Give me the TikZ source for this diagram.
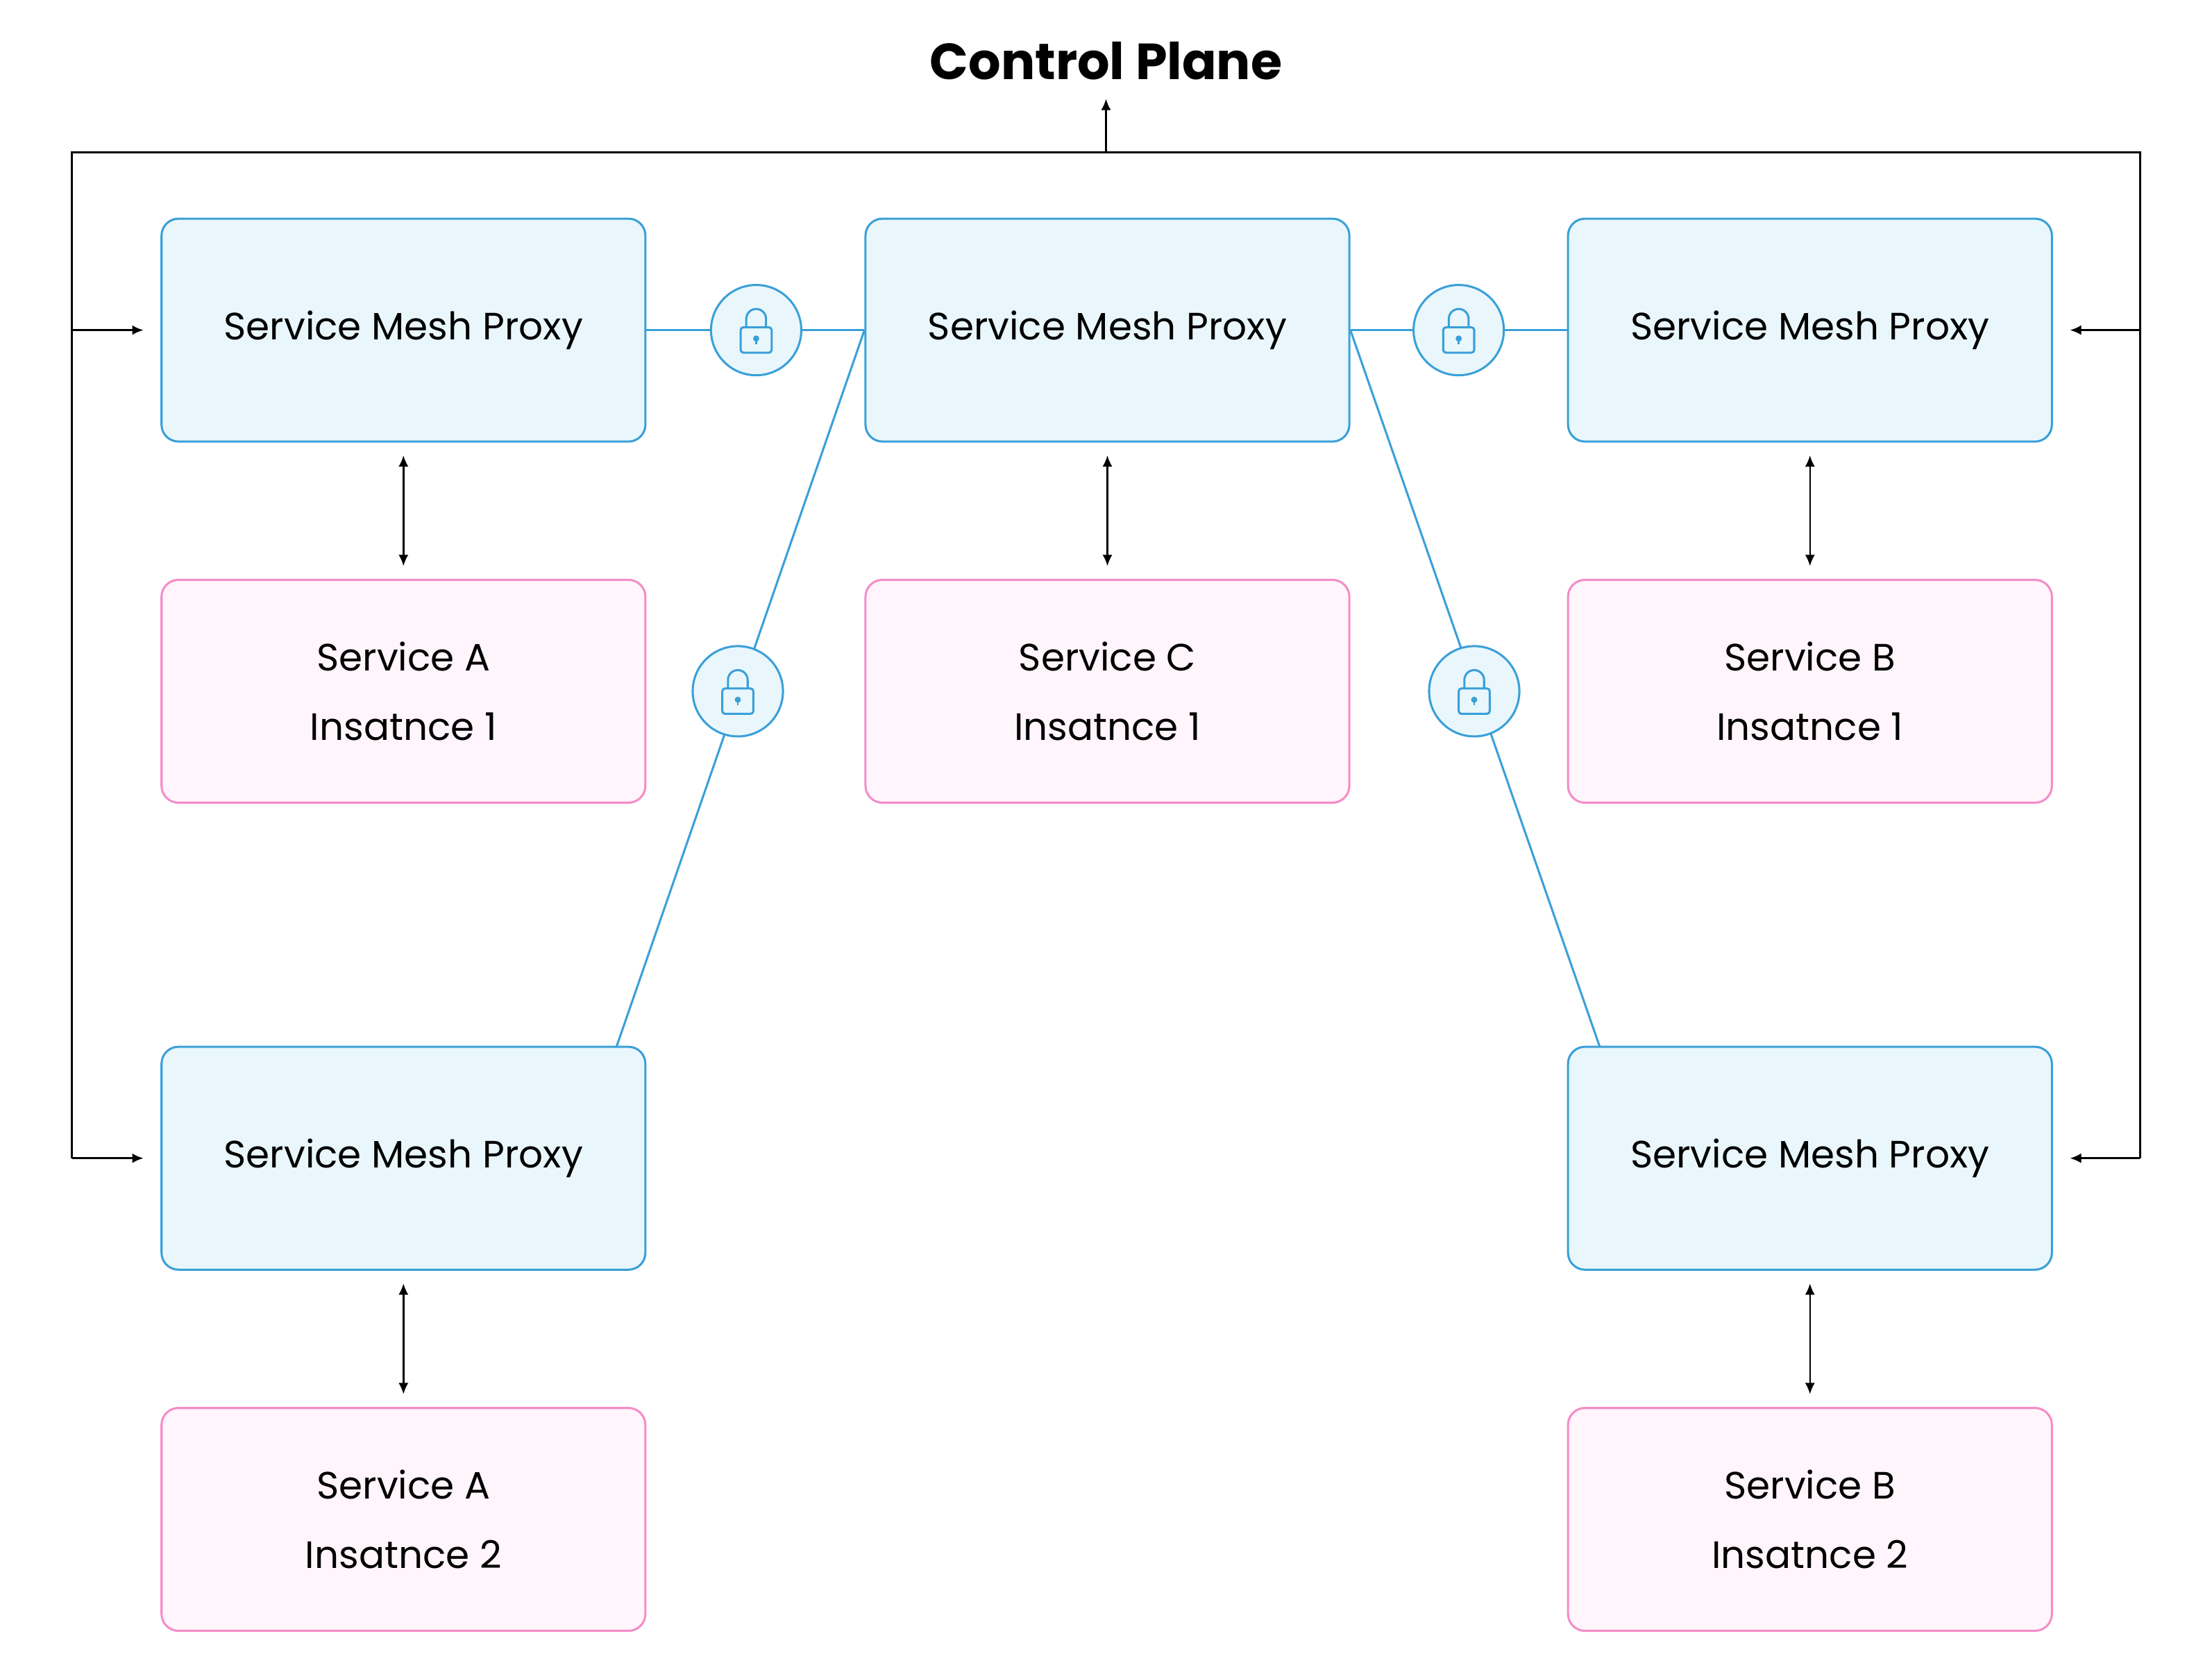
\documentclass[tikz,border=0pt]{standalone}
\usepackage{fontspec}
\setmainfont{Poppins}
\usetikzlibrary{arrows.meta,calc}
\definecolor{proxyline}{HTML}{3AA0D8}
\definecolor{proxyfill}{HTML}{E9F7FC}
\definecolor{svcline}{HTML}{F58CC8}
\definecolor{svcfill}{HTML}{FFF5FB}
\tikzset{
  proxy/.style={draw=proxyline, fill=proxyfill, line width=1.5pt, rounded corners=12pt,
    minimum width=343pt, minimum height=158pt, font=\fontsize{27}{34}\selectfont},
  service/.style={draw=svcline, fill=svcfill, line width=1.5pt, rounded corners=12pt,
    minimum width=343pt, minimum height=158pt, align=center,
    font=\fontsize{27}{49}\selectfont},
  lock/.style={circle, draw=proxyline, fill=proxyfill, line width=1.5pt, minimum size=64pt},
  link/.style={draw=proxyline, line width=1.5pt},
  ctrl/.style={line width=1.5pt, -{Latex[length=8pt,width=7pt]}},
  both/.style={line width=1.2pt, {Latex[length=8pt,width=7pt]}-{Latex[length=8pt,width=7pt]}}
}
\newcommand{\padlock}[1]{%
  \draw[proxyline, line width=1.5pt, rounded corners=2pt] ($(#1)+(-11,-2)$) rectangle ($(#1)+(11,16)$);
  \draw[proxyline, line width=1.5pt] ($(#1)+(-7,-2)$) -- ++(0,-6)
    arc[start angle=180, end angle=0, radius=7pt] -- ++(0,6);
  \fill[proxyline] ($(#1)+(0,6)$) circle (2.2pt);
  \draw[proxyline, line width=1.3pt] ($(#1)+(0,6)$) -- ++(0,4);
}
\begin{document}
\begin{tikzpicture}[x=1pt, y=-1pt]
  \useasboundingbox (0,0) rectangle (1568,1190);
  % control plane
  \node[font=\bfseries\fontsize{36}{44}\selectfont] (cp) at (784,43) {Control Plane};
  \coordinate (cptop) at (784,70);
  \coordinate (cpl) at (51,108);
  \coordinate (cpr) at (1517,108);
  \coordinate (cpm) at (784,108);

  % proxies
  \node[proxy] (pa1) at (286,234) {Service Mesh Proxy};
  \node[proxy] (pc1) at (785,234) {Service Mesh Proxy};
  \node[proxy] (pb1) at (1283,234) {Service Mesh Proxy};
  \node[proxy] (pa2) at (286,821) {Service Mesh Proxy};
  \node[proxy] (pb2) at (1283,821) {Service Mesh Proxy};

  % services
  \node[service] (sa1) at (286,490) {Service A\\Insatnce 1};
  \node[service] (sc1) at (785,490) {Service C\\Insatnce 1};
  \node[service] (sb1) at (1283,490) {Service B\\Insatnce 1};
  \node[service] (sa2) at (286,1077) {Service A\\Insatnce 2};
  \node[service] (sb2) at (1283,1077) {Service B\\Insatnce 2};

  % control plane wires
  \draw[line width=1.5pt] (cpl |- pa2) -- (cpl) -- (cpr) -- (cpr |- pb2);
  \draw[ctrl] (cpm) -- (cptop);
  \foreach \p in {pa1,pa2} \draw[ctrl] (cpl |- \p) -- ([xshift=-12pt]\p.west);
  \foreach \p in {pb1,pb2} \draw[ctrl] (cpr |- \p) -- ([xshift=12pt]\p.east);

  % proxy to service
  \foreach \p/\s in {pa1/sa1,pc1/sc1,pb1/sb1,pa2/sa2,pb2/sb2}
    \draw[both] ([yshift=-9pt]\p.south) -- ([yshift=9pt]\s.north);

  % mesh links
  \draw[link] (pa1.east) -- (pc1.west);
  \draw[link] (pc1.east) -- (pb1.west);
  \draw[link] (pc1.west) -- (437,742);
  \draw[link] (pc1.east) -- (1134,742);
  \node[lock] (l1) at (536,234) {};
  \node[lock] (l2) at (1034,234) {};
  \node[lock] (l3) at (523,490) {};
  \node[lock] (l4) at (1045,490) {};
  \foreach \l in {l1,l2,l3,l4} \padlock{\l};
\end{tikzpicture}
\end{document}
